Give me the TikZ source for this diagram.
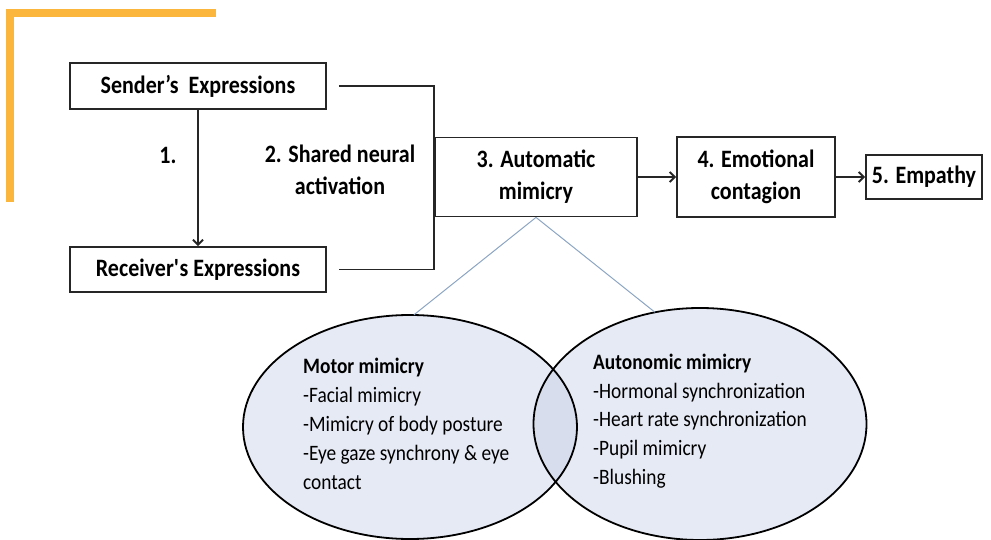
\documentclass[tikz,border=0pt]{standalone}
\usepackage{fontspec}
\setmainfont[FakeStretch=0.88]{Carlito}
\usetikzlibrary{shapes.geometric,arrows.meta}
\definecolor{orangebar}{RGB}{251,182,62}
\definecolor{ellfill}{RGB}{230,234,244}
\definecolor{ovfill}{RGB}{215,221,236}
\definecolor{linkblue}{RGB}{140,165,195}
\begin{document}
\begin{tikzpicture}[x=1pt,y=-1pt,
 box/.style={draw=black!85, line width=1.8pt, inner sep=0pt, align=center, font=\bfseries\fontsize{25}{32}\selectfont},
 lbl/.style={font=\bfseries\fontsize{25}{32}\selectfont, align=center, inner sep=0pt},
 ell/.style={ellipse, inner sep=0pt, fill=ellfill},
 etxt/.style={anchor=base west, inner sep=0pt, font=\fontsize{22}{29}\selectfont},
 ehead/.style={anchor=base west, inner sep=0pt, font=\bfseries\fontsize{22}{29}\selectfont},
 arr/.style={line width=2pt, draw=black!85, -{Straight Barb[length=5pt,width=10pt]}},
 conn/.style={line width=1.8pt, draw=black!85}]
\useasboundingbox (0,0) rectangle (991,540);
\fill[orangebar] (6,9) rectangle (216,17);
\fill[orangebar] (6,9) rectangle (14,202);
% boxes
\node[box, minimum width=256, minimum height=46] (sen) at (198,86) {Sender’s\ \ Expressions};
\node[box, minimum width=256, minimum height=45] (rec) at (198,269.5) {Receiver\textquotesingle s Expressions};
\node[box, minimum width=202, minimum height=79] (auto) at (536,177) {3. Automatic\\mimicry};
\node[box, minimum width=158, minimum height=80] (emo) at (756,177) {4. Emotional\\contagion};
\node[box, minimum width=116, minimum height=44] (emp) at (924,177) {5. Empathy};
% labels
\node[lbl] (one) at (168,155) {1.};
\node[lbl] (two) at (340,170) {2. Shared neural\\activation};
% connectors
\draw[arr] (sen) -- (rec);
\draw[arr] (auto.east) -- (auto.east -| emo.west);
\draw[arr] (emo.east) -- (emo.east -| emp.west);
\draw[conn] ([xshift=12]sen.east) -- (sen.east -| auto.west) -- (rec.east -| auto.west) -- ([xshift=12]rec.east);
% ellipses
\node[ell, minimum width=334, minimum height=224] (motor) at (410,427) {};
\node[ell, minimum width=333, minimum height=232] (auton) at (700,424) {};
\begin{scope}
\clip (410,427) ellipse [x radius=167, y radius=112];
\fill[ovfill] (700,424) ellipse [x radius=166.5, y radius=116];
\end{scope}
\draw[line width=1.8pt] (410,427) ellipse [x radius=167, y radius=112];
\draw[line width=1.8pt] (700,424) ellipse [x radius=166.5, y radius=116];
\draw[linkblue, line width=1pt] (auto.south) -- (motor.88);
\draw[linkblue, line width=1pt] (auto.south) -- (auton.112);
% ellipse texts
\node[ehead] (m0) at (303,373) {Motor mimicry};
\node[etxt] (m1) at (303,402) {-Facial mimicry};
\node[etxt] (m2) at (303,431) {-Mimicry of body posture};
\node[etxt] (m3) at (303,460) {-Eye gaze synchrony \& eye};
\node[etxt] (m4) at (303,489) {contact};
\node[ehead] (a0) at (593,369) {Autonomic mimicry};
\node[etxt] (a1) at (593,398) {-Hormonal synchronization};
\node[etxt] (a2) at (593,426) {-Heart rate synchronization};
\node[etxt] (a3) at (593,455) {-Pupil mimicry};
\node[etxt] (a4) at (593,484) {-Blushing};
\end{tikzpicture}
\end{document}
